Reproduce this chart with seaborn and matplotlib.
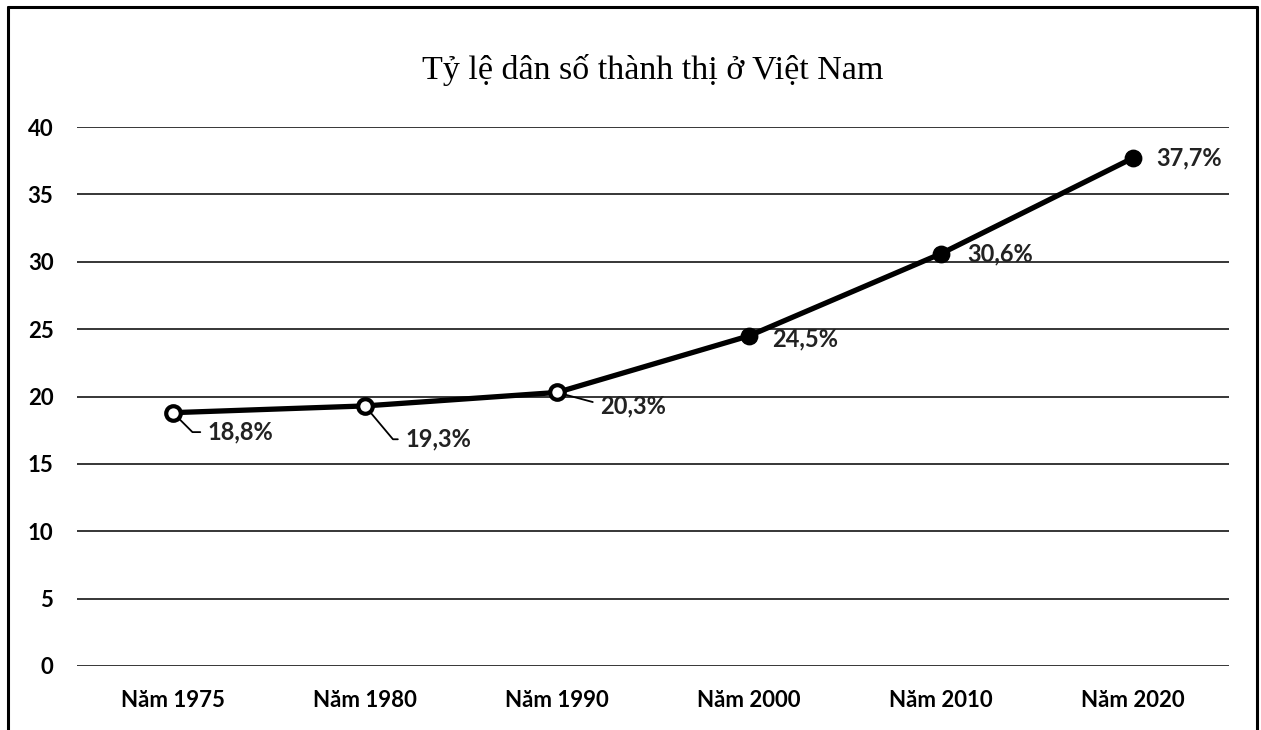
import matplotlib
matplotlib.use("Agg")
import matplotlib.pyplot as plt
from matplotlib.lines import Line2D
import seaborn as sns
import pandas as pd

categories = ["Năm 1975", "Năm 1980", "Năm 1990", "Năm 2000", "Năm 2010", "Năm 2020"]
values = [18.8, 19.3, 20.3, 24.5, 30.6, 37.7]
labels = ["18,8%", "19,3%", "20,3%", "24,5%", "30,6%", "37,7%"]
hollow = [True, True, True, False, False, False]
yticks = [0, 5, 10, 15, 20, 25, 30, 35, 40]
title = "Tỷ lệ dân số thành thị ở Việt Nam"

sns.set_theme(style="white")
plt.rcParams["font.family"] = ["Lato", "DejaVu Sans"]

df = pd.DataFrame({"cat": categories, "val": values, "hollow": hollow})

fig = plt.figure(figsize=(12.61, 7.30), dpi=100)
ax = fig.add_axes([77 / 1261, 1 - 666 / 730, (1229 - 77) / 1261, (666 - 127) / 730])

sns.lineplot(data=df, x="cat", y="val", sort=False, color="black", linewidth=3.8, ax=ax)
sub_h = df[df["hollow"]]
sub_f = df[~df["hollow"]]
sns.scatterplot(data=sub_h, x="cat", y="val", s=110, color="white", edgecolor="black",
                linewidth=3.0, zorder=5, ax=ax)
sns.scatterplot(data=sub_f, x="cat", y="val", s=140, color="black", edgecolor="black",
                linewidth=1, zorder=5, ax=ax)

ax.set_xlim(-0.5, len(categories) - 0.5)
ax.set_ylim(0, 40)
ax.set_yticks(yticks)
ax.set_yticklabels([str(t) for t in yticks])
ax.set_xlabel("")
ax.set_ylabel("")
for s in ax.spines.values():
    s.set_visible(False)
ax.grid(axis="y", color="black", linewidth=1.1)
ax.grid(axis="x", visible=False)
ax.set_axisbelow(True)
ax.tick_params(axis="both", length=0, labelsize=16, colors="black")
ax.tick_params(axis="y", pad=17)
ax.tick_params(axis="x", pad=17)
for lab in ax.get_xticklabels() + ax.get_yticklabels():
    lab.set_fontweight("bold")

offsets = [(25, -14), (29, -24), (31, -10), (17, -2), (19, 0), (17, 0)]
leader_angles = [-45, -50, -15, None, None, None]
for i, (c, v, lab) in enumerate(zip(categories, values, labels)):
    dx, dy = offsets[i]
    ang = leader_angles[i]
    kw = {}
    if ang is not None:
        kw["arrowprops"] = dict(arrowstyle="-", color="black", lw=1.3,
                                connectionstyle=f"angle,angleA=0,angleB={ang},rad=0",
                                relpos=(0, 0.5), shrinkA=3, shrinkB=5)
    ax.annotate(lab, xy=(i, v), xytext=(dx, dy), textcoords="offset points",
                ha="left", va="center", fontsize=17, fontweight="bold", color="#222222",
                zorder=6, **kw)

fig.text(653 / 1261, 1 - 70 / 730, title, ha="center", va="center",
         fontsize=24.5, family=["Liberation Serif", "DejaVu Serif"], color="black")

# outer frame (left, top, right)
fl = 8 / 1261
fr = 1257 / 1261
ft = 1 - 7 / 730
fig.add_artist(Line2D([fl, fl], [0, ft], transform=fig.transFigure, color="black", lw=2.2))
fig.add_artist(Line2D([fl, fr], [ft, ft], transform=fig.transFigure, color="black", lw=2.2))
fig.add_artist(Line2D([fr, fr], [ft, 0], transform=fig.transFigure, color="black", lw=2.2))

fig.savefig("out.png", dpi=100, facecolor="white")
